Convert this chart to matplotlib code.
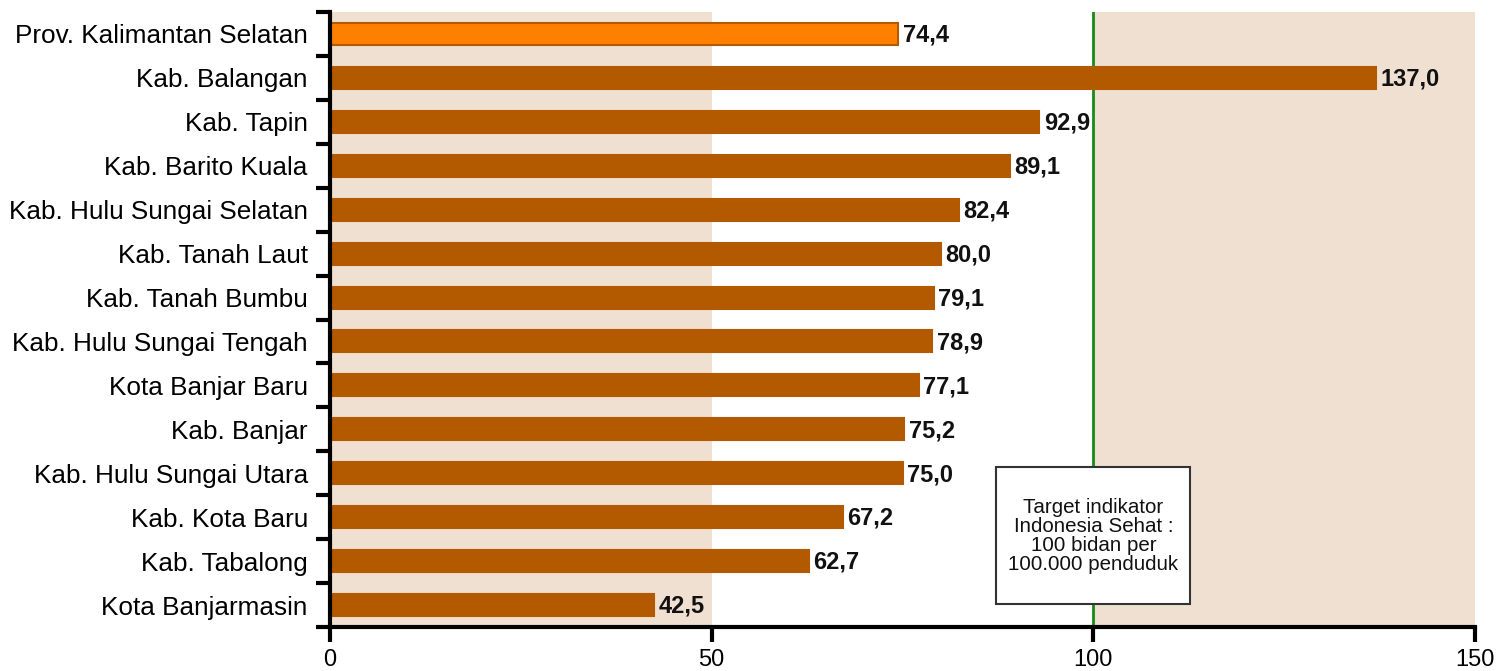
import numpy as np
import matplotlib.pyplot as plt
from matplotlib.patches import Rectangle

plt.rcParams['font.family'] = ['Liberation Sans', 'DejaVu Sans']

# Data (bidan per 100.000 penduduk)
regions = ["Prov. Kalimantan Selatan", "Kab. Balangan", "Kab. Tapin", "Kab. Barito Kuala",
           "Kab. Hulu Sungai Selatan", "Kab. Tanah Laut", "Kab. Tanah Bumbu",
           "Kab. Hulu Sungai Tengah", "Kota Banjar Baru", "Kab. Banjar",
           "Kab. Hulu Sungai Utara", "Kab. Kota Baru", "Kab. Tabalong", "Kota Banjarmasin"]
values = [74.4, 137.0, 92.9, 89.1, 82.4, 80.0, 79.1, 78.9, 77.1, 75.2, 75.0, 67.2, 62.7, 42.5]
target = 100
xticks = [0, 50, 100, 150]

fig = plt.figure(figsize=(15.03, 6.71), dpi=100)
ax = fig.add_axes([330/1503, 1 - 627/671, 1145/1503, 615/671])

# shaded bands
shade = '#efe0d1'
ax.axvspan(0, 50, color=shade, lw=0, zorder=0)
ax.axvspan(100, 150, color=shade, lw=0, zorder=0)

y = np.arange(len(regions))
colors = ['#ff8000'] + ['#b35900'] * (len(regions) - 1)
ax.barh(y, values, height=0.5, color=colors, edgecolor='#b35900', linewidth=1.5, zorder=2)

for yi, v in zip(y, values):
    ax.text(v + 0.6, yi + 0.03, f"{v:.1f}".replace('.', ','), va='center', ha='left',
            fontsize=17, fontweight='bold', color='#111111', zorder=3)

# target line and note box
ax.axvline(target, color='#1a8a1a', lw=2, zorder=1)
ax.add_patch(Rectangle((87.3, 9.86), 25.4, 3.12, fc='white', ec='#333333', lw=1.5, zorder=4))
ax.text(target, 11.43, "Target indikator\nIndonesia Sehat :\n100 bidan per\n100.000 penduduk",
        ha='center', va='center', fontsize=14.8, linespacing=1.0, color='#111111', zorder=5)

ax.set_xlim(0, 150)
ax.set_ylim(len(regions) - 0.5, -0.5)
ax.set_xticks(xticks)
ax.set_xticklabels([str(t) for t in xticks], fontsize=17)
ax.set_yticks(y)
ax.set_yticklabels(regions, fontsize=18.8)
ax.set_yticks(np.arange(len(regions) + 1) - 0.5, minor=True)

ax.tick_params(axis='y', which='major', length=0, pad=16)
ax.tick_params(axis='y', which='minor', length=10, width=3, direction='out')
ax.tick_params(axis='x', length=11, width=3, pad=5)

for side in ['top', 'right']:
    ax.spines[side].set_visible(False)
for side in ['left', 'bottom']:
    ax.spines[side].set_linewidth(3)

fig.savefig('out.png', dpi=100)
